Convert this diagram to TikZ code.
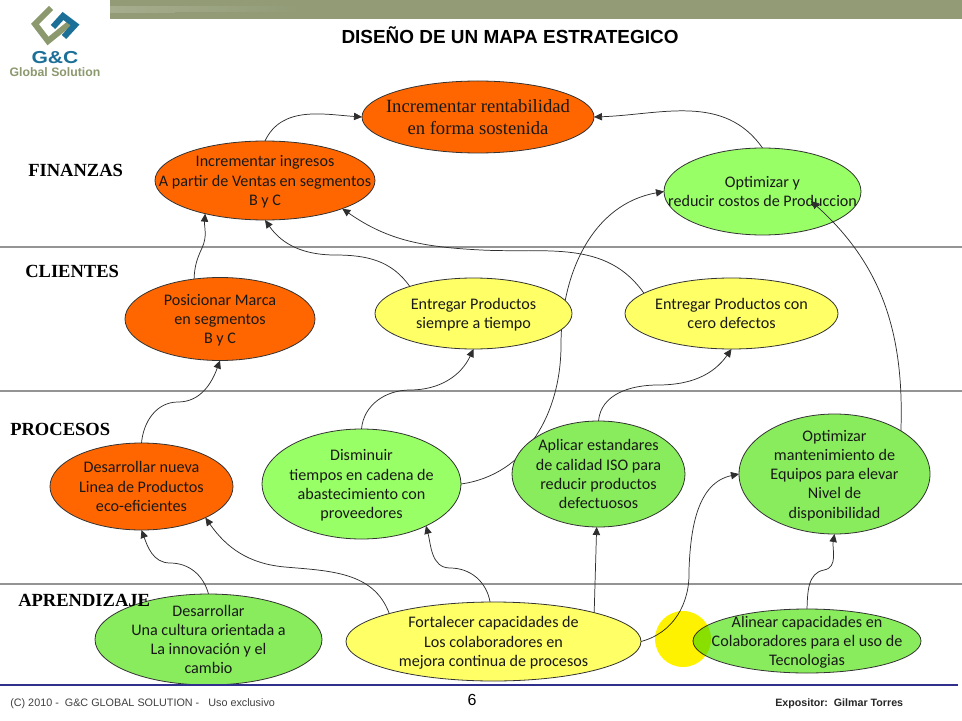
\documentclass[tikz,border=0pt]{standalone}
\usepackage{fontspec}
\setmainfont{Liberation Serif}
\setsansfont{Liberation Sans}
\newfontfamily\ovalfont{Carlito}
\usepackage{tikz}
\usetikzlibrary{arrows.meta,backgrounds,shapes.geometric}
\definecolor{naranjacol}{RGB}{255,102,0}
\definecolor{verdecol}{RGB}{153,255,102}
\definecolor{verdeosc}{RGB}{136,236,92}
\definecolor{amarillocol}{RGB}{255,255,102}
\definecolor{franjacol}{RGB}{146,155,118}
\definecolor{logoverde}{RGB}{140,152,110}
\definecolor{logoazul}{RGB}{28,112,152}
\definecolor{lineacol}{RGB}{48,48,140}
\newcommand{\ovaltxt}[1]{\makebox[0pt]{\raisebox{-.36em}[0pt][0pt]{\begin{tabular}{@{}c@{}}#1\end{tabular}}}}
\tikzset{
  oval size/.style 2 args={minimum width=#1*0.75pt,minimum height=#2*0.75pt},
  oval/.style={ellipse,draw=black!80,line width=0.6pt,inner sep=0pt,outer sep=0pt,
    font=\ovalfont\fontsize{12.1}{14.4}\selectfont,text=black!90},
  oval naranja/.style={oval,fill=naranjacol},
  oval verde/.style={oval,fill=verdecol},
  oval verdeosc/.style={oval,fill=verdeosc},
  oval amarillo/.style={oval,fill=amarillocol},
  perspectiva/.style={anchor=west,inner sep=0pt,font=\bfseries\fontsize{13.9}{16}\selectfont},
  separador/.style={draw=black!42,line width=0.9pt},
  flecha/.style={-{Triangle[length=6pt,width=5.5pt]},draw=black!82,line width=0.55pt},
  pie/.style={anchor=west,inner sep=0pt,font=\sffamily\fontsize{8.1}{10}\selectfont}
}
\begin{document}
\begin{tikzpicture}[x=0.75pt,y=-0.75pt]
  \useasboundingbox (0,0) rectangle (962,720);

  % header band and logo
  \fill[franjacol] (110,0) rectangle (962,19);
  \shade[left color=franjacol!82!white,right color=franjacol] (110,7) rectangle (300,13);
  \shade[left color=franjacol,middle color=franjacol!55!black,right color=franjacol] (175,13) rectangle (320,19);
  \shade[left color=franjacol,middle color=franjacol!65!black,right color=franjacol] (510,15) rectangle (640,19);
  \draw[logoverde,line width=4.5pt] (51,8) -- (35,24) -- (48,41) -- (69,24);
  \draw[logoazul,line width=4.5pt] (53,27) -- (63,16) -- (75,25) -- (64,37);

  \node[inner sep=0pt,font=\sffamily\bfseries\fontsize{13}{14}\selectfont,text=logoazul,xscale=1.22] (gc) at (55,58) {G\&C};
  \node[inner sep=0pt,font=\sffamily\bfseries\fontsize{9.2}{11}\selectfont,text=logoverde] (global) at (55,72.5) {Global Solution};
  \node[inner sep=0pt,font=\sffamily\bfseries\fontsize{14.2}{16}\selectfont] (titulo) at (510,35) {DISEÑO DE UN MAPA ESTRATEGICO};

  % objectives
  \node[oval naranja,oval size={232}{72},font=\fontsize{14}{17}\selectfont] (meta) at (478,117)
    {\ovaltxt{Incrementar rentabilidad\\en forma sostenida}};
  \node[oval naranja,oval size={220}{79}] (ingresos) at (265,180.5)
    {\ovaltxt{Incrementar ingresos\\A partir de Ventas en segmentos\\B y C}};
  \node[oval verde,oval size={197}{87}] (costos) at (762.5,191.5)
    {\ovaltxt{Optimizar y\\reducir costos de Produccion}};
  \node[oval naranja,oval size={190}{83}] (marca) at (220,319)
    {\ovaltxt{Posicionar Marca\\en segmentos\\B y C}};
  \node[oval amarillo,oval size={197}{71}] (tiempo) at (473.5,313.5)
    {\ovaltxt{Entregar Productos\\siempre a tiempo}};
  \node[oval amarillo,oval size={213}{71}] (defectos) at (731.5,313.5)
    {\ovaltxt{Entregar Productos con\\cero defectos}};
  \node[oval naranja,oval size={183}{87}] (linea) at (141.5,486.5)
    {\ovaltxt{Desarrollar nueva\\Linea de Productos\\eco-eficientes}};
  \node[oval verde,oval size={199}{110}] (cadena) at (361.5,484)
    {\ovaltxt{Disminuir\\tiempos en cadena de\\abastecimiento con\\proveedores}};
  \node[oval verdeosc,oval size={173}{106}] (calidad) at (598.5,474)
    {\ovaltxt{Aplicar estandares\\de calidad ISO para\\reducir productos\\defectuosos}};
  \node[oval verdeosc,oval size={191}{120}] (equipos) at (834.5,474)
    {\ovaltxt{Optimizar\\mantenimiento de\\Equipos para elevar\\Nivel de\\disponibilidad}};
  \node[oval verdeosc,oval size={227}{91}] (cultura) at (208.5,639.5)
    {\ovaltxt{Desarrollar\\Una cultura orientada a\\La innovación y el\\cambio}};
  \node[oval amarillo,oval size={295}{79}] (mejora) at (493.5,641.5)
    {\ovaltxt{Fortalecer capacidades de\\Los colaboradores en\\mejora continua de procesos}};
  \node[oval verdeosc,oval size={228}{64}] (tecnologia) at (807,641)
    {\ovaltxt{Alinear capacidades en\\Colaboradores para el uso de\\Tecnologias}};

  % pointer highlight
  \node[circle,fill=yellow,minimum size=42pt,inner sep=0pt,blend mode=multiply] (punto) at (683,639) {};

  % perspectives
  \node[perspectiva] (finanzas) at (28,170) {FINANZAS};
  \node[perspectiva] (clientes) at (25,271) {CLIENTES};
  \node[perspectiva] (procesos) at (10,429) {PROCESOS};
  \node[perspectiva] (aprendizaje) at (18,600) {APRENDIZAJE};

  % footer
  \draw[lineacol,line width=1.6pt] (0,685) -- (958,685);
  \node[pie,text=black!75] (derechos) at (10,704) {(C) 2010 -\ \ G\&C GLOBAL SOLUTION -\ \ \ Uso exclusivo};
  \node[inner sep=0pt,font=\sffamily\fontsize{12}{14}\selectfont] (pagina) at (472,700) {6};
  \node[pie,font=\sffamily\bfseries\fontsize{8}{10}\selectfont,text=black!85] (expositor) at (775,704) {Expositor:\ \ Gilmar Torres};

  % this one ends inside the ellipse
  \coordinate (puntacostos) at (811,201);
  \draw[flecha] (equipos.33) to[out=88,in=-42] (puntacostos);

  \begin{scope}[on background layer]
    \fill[white] (0,0) rectangle (962,720);
    \draw[separador] (0,247) -- (962,247);
    \draw[separador] (0,391) -- (962,391);
    \draw[separador] (0,584) -- (962,584);

    % top level
    \draw[flecha] (ingresos.north) to[out=65,in=176] (meta.west);
    \draw[flecha] (costos.north) to[out=125,in=2] (meta.east);
    \draw[flecha] (cadena.east) to[out=8,in=-90] (561,345) to[out=90,in=190] (costos.west);

    % clients to finance
    \draw[flecha] (marca.123) to[out=88,in=-115] (202,248) to[out=65,in=-95] (ingresos.209);
    \draw[flecha] (tiempo.157) to[out=125,in=0] (335,255) to[out=180,in=-55] (ingresos.south);
    \draw[flecha] (defectos.167) to[out=125,in=-3] (481,250) to[out=177,in=-35] (ingresos.-20);

    % processes to clients
    \draw[flecha] (linea.north) to[out=85,in=180] (178,402) to[out=0,in=-110] (marca.south);
    \draw[flecha] (cadena.north) to[out=85,in=180] (410,390) to[out=0,in=-115] (tiempo.south);
    \draw[flecha] (calidad.north) to[out=85,in=180] (658,385) to[out=0,in=-125] (defectos.south);

    % learning to processes
    \draw[flecha] (cultura.north) to[out=105,in=0] (170,563) to[out=180,in=-70] (linea.south);
    \draw[flecha] (mejora.165) to[out=110,in=-5] (285,567) to[out=175,in=-55] (linea.-26);
    \draw[flecha] (mejora.95) to[out=100,in=0] (450,568) to[out=180,in=-75] (cadena.-33);
    \draw[flecha] (mejora.16) -- (calidad.-92);
    \draw[flecha] (mejora.east) to[out=15,in=-88] (689,570) to[out=88,in=192] (equipos.west);
    \draw[flecha] (tecnologia.north) to[out=88,in=190] (824,570) to[out=10,in=-100] (equipos.south);
  \end{scope}
\end{tikzpicture}
\end{document}
